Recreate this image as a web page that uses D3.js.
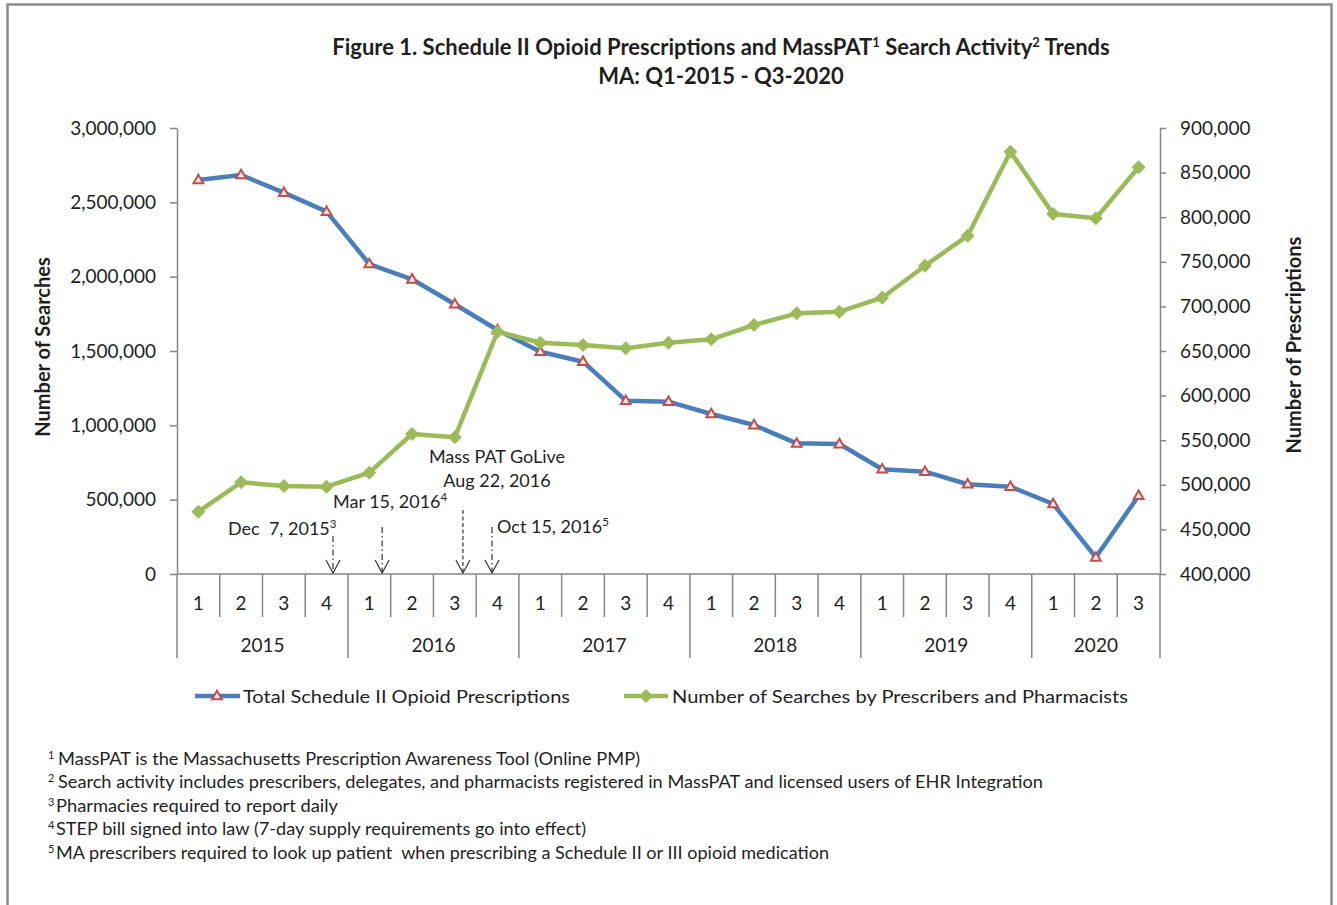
<!DOCTYPE html>
<html>
<head>
<meta charset="utf-8">
<script src="https://cdn.jsdelivr.net/npm/d3@7"></script>
<style>
  body { margin: 0; background: #fff; }
  text { font-family: Lato, "Open Sans", sans-serif; fill: #1f1f1f; white-space: pre; }
</style>
</head>
<body>
<div id="chart"></div>
<script>
// data
var quarters = ["1","2","3","4","1","2","3","4","1","2","3","4","1","2","3","4","1","2","3","4","1","2","3"]
var years = ["2015","2016","2017","2018","2019","2020"]
var quartersPerYear = [4, 4, 4, 4, 4, 3]
var prescriptions = [841700, 847300, 827500, 806200, 747500, 730400, 702400, 673500, 649200, 638000, 594300, 593200,
  579400, 567000, 546500, 545700, 517400, 514700, 500600, 497900, 478500, 418700, 487800]
var searches = [419100, 616800, 591900, 587200, 681400, 941700, 919500, 1629800, 1555800, 1540400, 1518200, 1555800,
  1578700, 1674900, 1753600, 1764400, 1858500, 2073800, 2275600, 2840600, 2421500, 2392600, 2735600]
var leftTicks = [0, 500000, 1000000, 1500000, 2000000, 2500000, 3000000]
var rightTicks = [400000, 450000, 500000, 550000, 600000, 650000, 700000, 750000, 800000, 850000, 900000]
// events: quarter position (index + fraction of the quarter)
var eventNames = ["Dec  7, 2015", "Mar 15, 2016", "Aug 22, 2016", "Oct 15, 2016"]
var eventNotes = ["3", "4", "", "5"]
var eventPos = [3.65, 4.8, 6.69, 7.37]
var seriesNames = ["Total Schedule II Opioid Prescriptions", "Number of Searches by Prescribers and Pharmacists"]
var footnotes = [
  ["1", "MassPAT is the Massachusetts Prescription Awareness Tool (Online PMP)"],
  ["2", "Search activity includes prescribers, delegates, and pharmacists registered in MassPAT and licensed users of EHR Integration"],
  ["3", "Pharmacies required to report daily"],
  ["4", "STEP bill signed into law (7-day supply requirements go into effect)"],
  ["5", "MA prescribers required to look up patient  when prescribing a Schedule II or III opioid medication"]
]

var W = 1337, H = 905
var plotL = 177, plotR = 1160, plotT = 128, plotB = 574
var axisColor = "#868686"
var blue = "#4A7EBB", green = "#9BBB59", red = "#C0504D"

var svg = d3.select("#chart").append("svg")
  .attr("width", W)
  .attr("height", H)

// outer frame
svg.append("path")
  .attr("d", "M7.5,910 V4.5 H1331.5 V910")
  .attr("fill", "none")
  .attr("stroke", "#8c8c8c")
  .attr("stroke-width", 2.5)

// title
var title = svg.append("text")
  .attr("x", 721).attr("y", 55)
  .attr("text-anchor", "middle")
  .attr("font-weight", "bold")
  .attr("font-size", 22)
title.append("tspan").text("Figure 1. Schedule II Opioid Prescriptions and MassPAT")
title.append("tspan").attr("font-size", 13).attr("dy", -8).text("1")
title.append("tspan").attr("dy", 8).text(" Search Activity")
title.append("tspan").attr("font-size", 13).attr("dy", -8).text("2")
title.append("tspan").attr("dy", 8).text(" Trends")
svg.append("text")
  .attr("x", 721).attr("y", 84)
  .attr("text-anchor", "middle")
  .attr("font-weight", "bold")
  .attr("font-size", 22)
  .text("MA: Q1-2015 - Q3-2020")

// scales
var x = d3.scaleBand().domain(d3.range(quarters.length)).range([plotL, plotR])
var bw = x.bandwidth()
var cx = i => x(i) + bw / 2
var yL = d3.scaleLinear().domain([0, 3000000]).range([plotB, plotT])
var yR = d3.scaleLinear().domain([400000, 900000]).range([plotB, plotT])

// left axis
var gl = svg.append("g")
  .attr("transform", "translate(" + plotL + ",0)")
  .call(d3.axisLeft(yL).tickValues(leftTicks).tickSize(7).tickSizeOuter(0).tickPadding(14).tickFormat(d3.format(",")))

// right axis
var gr = svg.append("g")
  .attr("transform", "translate(" + plotR + ",0)")
  .call(d3.axisRight(yR).tickValues(rightTicks).tickSize(6).tickSizeOuter(0).tickPadding(14).tickFormat(d3.format(",")))

svg.selectAll(".domain, .tick line").attr("stroke", axisColor).attr("stroke-width", 1.5)
svg.selectAll(".tick text").attr("font-family", "Lato, sans-serif").attr("font-size", 19).attr("fill", "#1f1f1f")

// axis titles
svg.append("text")
  .attr("transform", "translate(50,347) rotate(-90)")
  .attr("text-anchor", "middle")
  .attr("font-weight", "bold")
  .attr("font-size", 20)
  .text("Number of Searches")
svg.append("text")
  .attr("transform", "translate(1301,345) rotate(-90)")
  .attr("text-anchor", "middle")
  .attr("font-weight", "bold")
  .attr("font-size", 20)
  .text("Number of Prescriptions")

// category axis: two levels
var cat = svg.append("g").attr("stroke", axisColor).attr("stroke-width", 1.5)
cat.append("line").attr("x1", plotL).attr("x2", plotR).attr("y1", plotB).attr("y2", plotB)
var yearStarts = [0]
quartersPerYear.forEach((n, k) => yearStarts.push(yearStarts[k] + n))
d3.range(quarters.length + 1).forEach(i => {
  var xx = i < quarters.length ? x(i) : plotR
  var isYear = yearStarts.indexOf(i) >= 0
  cat.append("line")
    .attr("x1", xx).attr("x2", xx)
    .attr("y1", plotB).attr("y2", isYear ? 658 : 617)
})
svg.append("g").selectAll("text")
  .data(quarters)
  .enter().append("text")
  .attr("x", (d, i) => cx(i))
  .attr("y", 610)
  .attr("text-anchor", "middle")
  .attr("font-size", 19)
  .text(d => d)
svg.append("g").selectAll("text")
  .data(years)
  .enter().append("text")
  .attr("x", (d, k) => (x(yearStarts[k]) + (yearStarts[k + 1] < quarters.length ? x(yearStarts[k + 1]) : plotR)) / 2)
  .attr("y", 652)
  .attr("text-anchor", "middle")
  .attr("font-size", 19)
  .text(d => d)

// event arrows
var arrowTops = [536, 527, 510, 527]
var arrowDash = ["6,3,1.5,3", "6,3,1.5,3", "4,2.5", "6,3,1.5,3"]
var ex = p => plotL + p * bw
var arrows = svg.append("g").attr("stroke", "#333").attr("fill", "none").attr("stroke-width", 1.2)
eventPos.forEach((p, k) => {
  arrows.append("line")
    .attr("x1", ex(p)).attr("x2", ex(p))
    .attr("y1", arrowTops[k]).attr("y2", 572)
    .attr("stroke-dasharray", arrowDash[k])
  arrows.append("polyline")
    .attr("points", [[ex(p) - 7, 560], [ex(p), 573], [ex(p) + 7, 560]].join(" "))
})
function noteLabel(txt, sup, xx, yy, anchor) {
  var t = svg.append("text").attr("x", xx).attr("y", yy).attr("font-size", 18).attr("text-anchor", anchor || "start")
  t.append("tspan").text(txt)
  if (sup) t.append("tspan").attr("font-size", 11.5).attr("dy", -7).text(sup)
  return t
}
noteLabel(eventNames[0], eventNotes[0], 228, 535)
noteLabel(eventNames[1], eventNotes[1], 333, 508)
noteLabel("Mass PAT GoLive", "", 497, 463, "middle")
noteLabel(eventNames[2], eventNotes[2], 497, 487, "middle")
noteLabel(eventNames[3], eventNotes[3], 497, 533)

// series
var triangle = d3.symbol().type(d3.symbolTriangle).size(42)
var diamond = d3.symbol().type(d3.symbolSquare).size(98)

svg.append("path")
  .datum(prescriptions)
  .attr("fill", "none")
  .attr("stroke", blue)
  .attr("stroke-width", 4.5)
  .attr("stroke-linejoin", "round")
  .attr("d", d3.line().x((d, i) => cx(i)).y(d => yR(d)))
svg.append("g").selectAll("path")
  .data(prescriptions)
  .enter().append("path")
  .attr("d", triangle)
  .attr("transform", (d, i) => "translate(" + cx(i) + "," + (yR(d) + 0.5) + ")")
  .attr("fill", "#f4e8e8")
  .attr("stroke", red)
  .attr("stroke-width", 2)

svg.append("path")
  .datum(searches)
  .attr("fill", "none")
  .attr("stroke", green)
  .attr("stroke-width", 4.5)
  .attr("stroke-linejoin", "round")
  .attr("d", d3.line().x((d, i) => cx(i)).y(d => yL(d)))
svg.append("g").selectAll("path")
  .data(searches)
  .enter().append("path")
  .attr("d", diamond)
  .attr("transform", (d, i) => "translate(" + cx(i) + "," + yL(d) + ") rotate(45)")
  .attr("fill", green)

// legend
var lg = svg.append("g")
lg.append("line").attr("x1", 195).attr("x2", 240).attr("y1", 696).attr("y2", 696)
  .attr("stroke", blue).attr("stroke-width", 4.5)
lg.append("path").attr("d", triangle).attr("transform", "translate(217,696.5)")
  .attr("fill", "#f4e8e8").attr("stroke", red).attr("stroke-width", 2)
lg.append("text").attr("x", 243).attr("y", 703).attr("font-size", 18)
  .attr("textLength", 327).attr("lengthAdjust", "spacingAndGlyphs")
  .text(seriesNames[0])
lg.append("line").attr("x1", 624).attr("x2", 668).attr("y1", 696).attr("y2", 696)
  .attr("stroke", green).attr("stroke-width", 4.5)
lg.append("path").attr("d", diamond).attr("transform", "translate(646,696) rotate(45)")
  .attr("fill", green)
lg.append("text").attr("x", 672).attr("y", 703).attr("font-size", 18)
  .attr("textLength", 456).attr("lengthAdjust", "spacingAndGlyphs")
  .text(seriesNames[1])

// footnotes
var fnStart = [58, 58, 56, 56, 56]
var fnEnd = [640, 1043, 338, 586, 829]
var fn = svg.append("g")
footnotes.forEach((f, k) => {
  var yy = 765 + k * 23.4
  fn.append("text").attr("x", 48).attr("y", yy - 6).attr("font-size", 11).text(f[0])
  fn.append("text").attr("x", fnStart[k]).attr("y", yy).attr("font-size", 16.5)
    .attr("textLength", fnEnd[k] - fnStart[k]).attr("lengthAdjust", "spacingAndGlyphs")
    .text(f[1])
})
</script>
</body>
</html>
